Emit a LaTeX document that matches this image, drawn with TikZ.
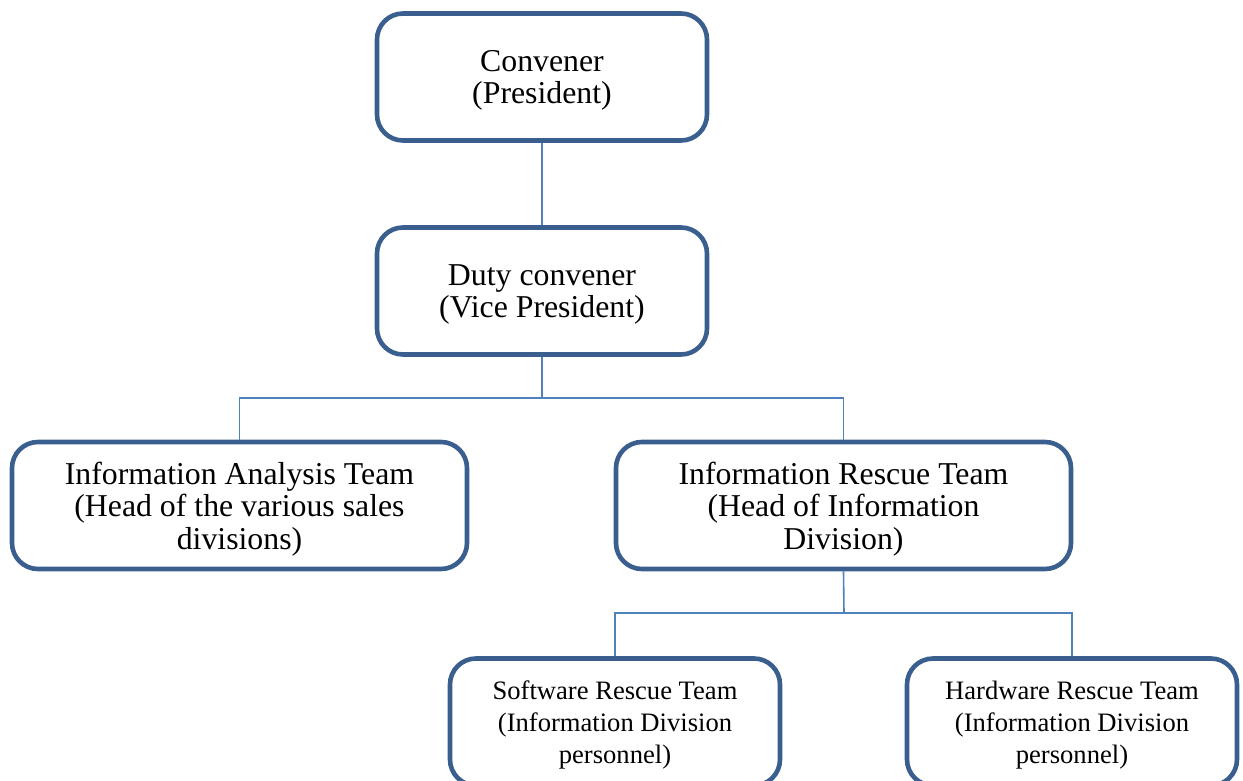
\documentclass[tikz,border=0pt]{standalone}
\usepackage{fontspec}
\setmainfont{Liberation Serif}
\usetikzlibrary{positioning}
\definecolor{boxBlue}{HTML}{3A5F8F}
\definecolor{lineBlue}{HTML}{4F81BD}

\begin{document}
\begin{tikzpicture}[x=0.5pt, y=-0.5pt,
  box/.style={draw=boxBlue, line width=2.3pt, rounded corners=13pt, fill=white,
    align=center, inner sep=0pt, text depth=0pt, font=\fontsize{15.9}{16.2}\selectfont},
  wide/.style={box, minimum width=227.5pt, minimum height=63.5pt},
  narrow/.style={box, minimum width=165pt, minimum height=63.5pt},
  small/.style={narrow, font=\fontsize{13.3}{15.9}\selectfont},
  link/.style={draw=lineBlue, line width=0.8pt}]
\useasboundingbox (0,0) rectangle (1243,781);
\clip (0,0) rectangle (1243,781);

% top of the chart
\node[narrow] (conv) at (542,77) {Convener\\(President)};
\node[narrow] (duty) at (542,291) {Duty convener\\(Vice President)};

% teams
\node[wide] (ana) at (239.5,505.5) {Information Analysis Team\\(Head of the various sales\\divisions)};
\node[wide] (resc) at (843.5,505.5) {Information Rescue Team\\(Head of Information\\Division)};

% sub teams
\node[small] (soft) at (615,722) {Software Rescue Team\\(Information Division\\personnel)};
\node[small] (hard) at (1072,722) {Hardware Rescue Team\\(Information Division\\personnel)};

\coordinate (busA) at (542,398);
\coordinate (busB) at (844,613);

\draw[link] (conv.south) -- (duty.north);
\draw[link] (duty.south) -- (busA);
\draw[link] (busA) -| (ana.north);
\draw[link] (busA) -| (resc.north);
\draw[link] (resc.south) -- (busB);
\draw[link] (busB) -| (soft.north);
\draw[link] (busB) -| (hard.north);
\end{tikzpicture}
\end{document}
